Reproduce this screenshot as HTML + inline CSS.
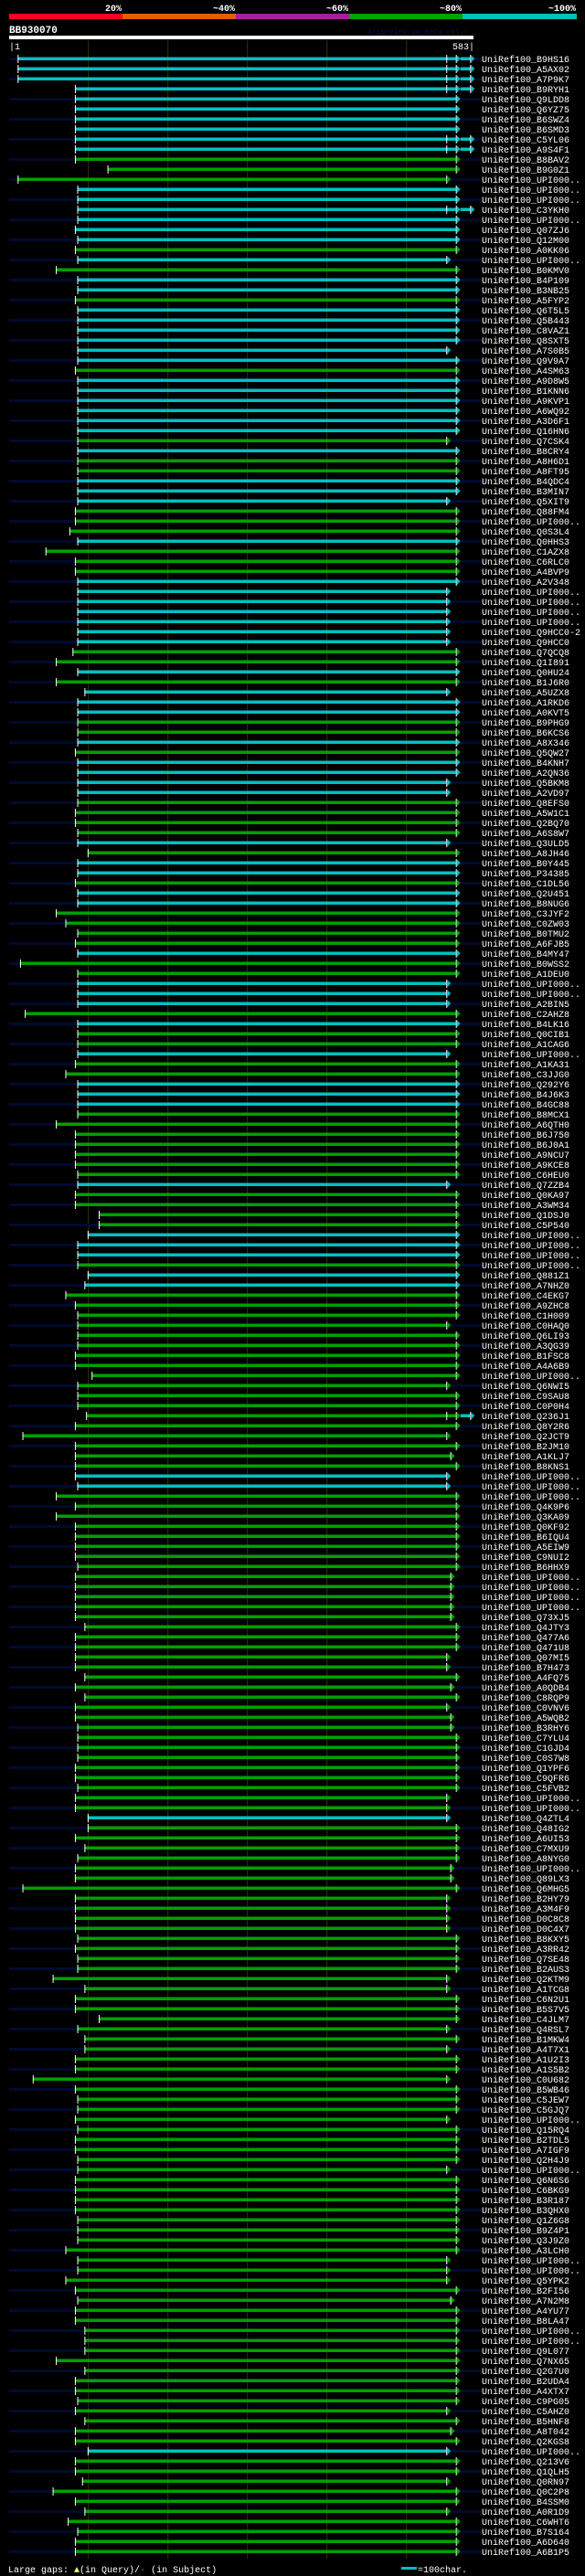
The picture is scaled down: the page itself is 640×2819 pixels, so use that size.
<!DOCTYPE html>
<html><head><meta charset="utf-8"><style>
html,body{margin:0;padding:0;background:#000;}
svg{display:block;font-family:"Liberation Mono",monospace;}
</style></head><body>
<svg id="chart" width="640" height="2819" viewBox="0 0 640 2819" xmlns="http://www.w3.org/2000/svg">
<rect x="0" y="0" width="640" height="2819" fill="#000"/>
<g>
<rect x="10" y="15" width="124" height="6" fill="#ff0020"/>
<rect x="134" y="15" width="124" height="6" fill="#e06000"/>
<rect x="258" y="15" width="124" height="6" fill="#a020a0"/>
<rect x="382" y="15" width="124" height="6" fill="#00a000"/>
<rect x="506" y="15" width="125" height="6" fill="#00c0c0"/>
<g fill="#fff" font-size="10" font-weight="bold" text-anchor="end">
<text x="133" y="12">20%</text>
<text x="257" y="12">~40%</text>
<text x="381" y="12">~60%</text>
<text x="505" y="12">~80%</text>
<text x="630" y="12">~100%</text>
</g></g>
<text x="10" y="36" fill="#fff" font-size="11" font-weight="bold">BB930070</text>
<text x="402" y="37" fill="#0a1040" font-size="8">AlignView.pm Beta rel.7</text>
<rect x="10" y="39" width="508" height="4" fill="#fff"/>
<text x="10" y="54" fill="#fff" font-size="10">|1</text>
<text x="519" y="54" fill="#fff" font-size="10" text-anchor="end">583|</text>
<g id="grid"></g>
<g id="rows"></g>
<g>
<text x="9" y="2815" fill="#fff" font-size="10">Large gaps: <tspan fill="#ff8">▲</tspan>(in Query)/<tspan fill="#00c0c0">-</tspan> (in Subject)</text>
<rect x="439" y="2809" width="17" height="3" fill="#00c0c0"/>
<text x="457" y="2815" fill="#fff" font-size="10">=100char.</text>
</g>
</svg>
<script>
const names = "B9HS16 A5AX02 A7P9K7 B9RYH1 Q9LDD8 Q6YZ75 B6SWZ4 B6SMD3 C5YL06 A9S4F1 B8BAV2 B9G0Z1 U U U C3YKH0 U Q07ZJ6 Q12M00 A0KK06 U B0KMV0 B4P109 B3NB25 A5FYP2 Q6T5L5 Q5B443 C8VAZ1 Q8SXT5 A7S0B5 Q9V9A7 A4SM63 A9D8W5 B1KNN6 A9KVP1 A6WQ92 A3D6F1 Q16HN6 Q7CSK4 B8CRY4 A8H6D1 A8FT95 B4QDC4 B3MIN7 Q5XIT9 Q88FM4 U Q0S3L4 Q0HHS3 C1AZX8 C6RLC0 A4BVP9 A2V348 U U U U Q9HCC0-2 Q9HCC0 Q7QCQ8 Q1I891 Q0HU24 B1J6R0 A5UZX8 A1RKD6 A0KVT5 B9PHG9 B6KCS6 A8X346 Q5QW27 B4KNH7 A2QN36 Q5BKM8 A2VD97 Q8EFS0 A5W1C1 Q2BQ70 A6S8W7 Q3ULD5 A8JH46 B0Y445 P34385 C1DL56 Q2U451 B8NUG6 C3JYF2 C0ZW03 B0TMU2 A6FJB5 B4MY47 B0WSS2 A1DEU0 U U A2BIN5 C2AHZ8 B4LK16 Q0CIB1 A1CAG6 U A1KA31 C3JJG0 Q292Y6 B4J6K3 B4GC88 B8MCX1 A6QTH0 B6J750 B6J0A1 A9NCU7 A9KCE8 C6HEU0 Q7ZZB4 Q0KA97 A3WM34 Q1DSJ0 C5P540 U U U U Q881Z1 A7NHZ0 C4EKG7 A9ZHC8 C1H009 C0HAQ0 Q6LI93 A3QG39 B1FSC8 A4A6B9 U Q6NWI5 C9SAU8 C0P0H4 Q236J1 Q8Y2R6 Q2JCT9 B2JM10 A1KLJ7 B8KNS1 U U U Q4K9P6 Q3KA09 Q0KF92 B6IQU4 A5EIW9 C9NUI2 B6HHX9 U U U U Q73XJ5 Q4JTY3 Q477A6 Q471U8 Q07MI5 B7H473 A4FQ75 A0QDB4 C8RQP9 C0VNV6 A5WQB2 B3RHY6 C7YLU4 C1GJD4 C0S7W8 Q1YPF6 C9QFR6 C5FVB2 U U Q4ZTL4 Q48IG2 A6UI53 C7MXU9 A8NYG0 U Q89LX3 Q6MHG5 B2HY79 A3M4F9 D0C8C8 D0C4X7 B8KXY5 A3RR42 Q7SE48 B2AUS3 Q2KTM9 A1TCG8 C6N2U1 B5S7V5 C4JLM7 Q4RSL7 B1MKW4 A4T7X1 A1U2I3 A1S5B2 C0U682 B5WB46 C5JEW7 C5GJQ7 U Q15RQ4 B2TDL5 A7IGF9 Q2H4J9 U Q6N6S6 C6BKG9 B3R187 B3QHX0 Q1Z6G8 B9Z4P1 Q3J9Z0 A3LCH0 U U Q5YPK2 B2FI56 A7N2M8 A4YU77 B8LA47 U U Q9L077 Q7NX65 Q2G7U0 B2UDA4 A4XTX7 C9PG05 C5AHZ0 B5HNF8 A8T042 Q2KGS8 U Q213V6 Q1QLH5 Q0RN97 Q0C2P8 B4SSM0 A0R1D9 C6WHT6 B7S164 A6D640 A6B1P5".split(" ");
const colorCodes = ("cccccccccc"+"gggccccccg"+"cgccgccc"+"cccgcccccc"+"gcggcccggg"+"cgggcccc"+"cccggcgccc"+"ggcgccccgg"+"ggcgccgc"+"cggggcggcc"+"cgcggcggcc"+"cggggggg"+"cggggcccgc"+"cggggggggg"+"gggggggg"+"gccggggggg"+"gggggggggg"+"gggggggg"+"gggggggcgg"+"gggggggggg"+"gggggggg"+"gggggggggg"+"gggggggggg"+"gggggggg"+"gggggggggg"+"ggggcggggg"+"ggggg").split("");
const starts = [11,11,11,83,83,83,83,83,83,83, 83,124,11,86,86,86,86,83,86,83, 86,59,86,86,83,86,86,86,
86,86,86,83,86,86,86,86,86,86, 86,86,86,86,86,86,86,83,83,76, 86,46,83,83,86,86,86,86,
86,86,86,80,59,86,59,95,86,86, 86,86,86,83,86,86,86,86,86,83, 83,86,86,99,86,86,83,86,
86,59,71,86,83,86,14,86,86,86, 86,20,86,86,86,86,83,71,86,86, 86,86,59,83,83,83,83,86,
86,83,83,113,113,99,86,86,86,99, 95,71,83,86,86,86,86,83,83,104, 86,86,86,97,83,17,83,83,
83,83,86,59,83,59,83,83,83,83, 86,83,83,83,83,83,95,83,83,83, 83,95,83,95,83,83,86,86,
86,86,83,83,86,83,83,99,99,83, 95,86,83,83,17,83,83,83,83,86, 83,86,86,55,95,83,83,113,
86,95,95,83,83,30,83,86,86,83, 86,83,83,86,86,83,83,83,83,86, 86,86,71,86,86,71,83,86,
83,83,95,95,95,59,95,83,83,86, 83,95,83,83,99,83,83,92,55,83, 95,74,86,83,83];
const endCodes = ("EEEEFFFFEE"+"FFSFFEFFFF"+"SFFFFFFF"+"FSFFFFFFFF"+"SFFFFFSFFF"+"FFFFFSSS"+"SSSFFFFSFF"+"FFFFFFSSFF"+"FFSFFFFF"+"FFFFFFFFSS"+"SFFFFSFFFF"+"FFFFFFFF"+"SFFFFFFFFF"+"FFFFSFFFFF"+"SFFEFSFM"+"FSSFFFFFFF"+"FMMMMMFFFS"+"SFMFSMMF"+"FFFFFSSSFF"+"FFMMFSSSSF"+"FFFSSFFF"+"SFSFFSFFFS"+"FFFFSFFFFF"+"FFFSSSFM"+"FFFFFFFFFF"+"SFMFSFFSFF"+"SFFFF").split("");
const endValues = {F:562, S:550, M:555, E:562};
const extEnd = 580;
const gridTicks = [100,200,300,400,500];

const NS = "http://www.w3.org/2000/svg";
const x = q => 10.6 + (q - 1) * 0.87;
const rowY = i => 64 + i * 11;
const COL = {c:"#00c0c0", g:"#00a000"};
function mk(tag, attrs, parent){ const e=document.createElementNS(NS,tag); for(const k in attrs) e.setAttribute(k,attrs[k]); parent.appendChild(e); return e; }

const grid = document.getElementById("grid");
gridTicks.forEach(t => {
  const l = mk("line",{x1:x(t),x2:x(t),y1:44,y2:2800,stroke:"#333300","stroke-width":1},grid);
  
  
});

const rows = document.getElementById("rows");
names.forEach((n, i) => {
  const y = rowY(i);
  const g = mk("g",{},rows);
  
  
  if (i % 2 === 0) {
    const s = mk("rect",{x:10,y:y-1,width:517,height:3,fill:"#000a30"},g);
    
    
  }
  const col = COL[colorCodes[i]];
  const sx = x(starts[i]), ex = x(endValues[endCodes[i]]);
  const bar = mk("rect",{x:sx,y:y-1.5,width:ex-sx,height:3.5,fill:col},g);
  
  
  mk("line",{x1:sx+0.5,x2:sx+0.5,y1:y-4,y2:y+5,stroke:"#fff","stroke-width":1},g);
  mk("line",{x1:ex+0.5,x2:ex+0.5,y1:y-4,y2:y+5,stroke:"#fff","stroke-width":1},g);
  mk("polygon",{points:`${ex+1},${y-3.5} ${ex+5},${y} ${ex+1},${y+4.5}`,fill:col},g);
  if (endCodes[i] === "E") {
    const x2 = x(extEnd);
    mk("line",{x1:x(550)+0.5,x2:x(550)+0.5,y1:y-4,y2:y+5,stroke:"#fff","stroke-width":1},g);
    mk("rect",{x:ex+5,y:y-1.5,width:x2-ex-5,height:3.5,fill:"#00c0c0"},g);
    mk("line",{x1:x2+0.5,x2:x2+0.5,y1:y-4,y2:y+5,stroke:"#fff","stroke-width":1},g);
    mk("polygon",{points:`${x2+1},${y-3.5} ${x2+5},${y} ${x2+1},${y+4.5}`,fill:"#00c0c0"},g);
  }
  const t = mk("text",{x:527,y:y+4,fill:"#fff","font-size":10},g);
  
  
  t.textContent = "UniRef100_" + (n === "U" ? "UPI000.." : n);
});
</script>
</body></html>
